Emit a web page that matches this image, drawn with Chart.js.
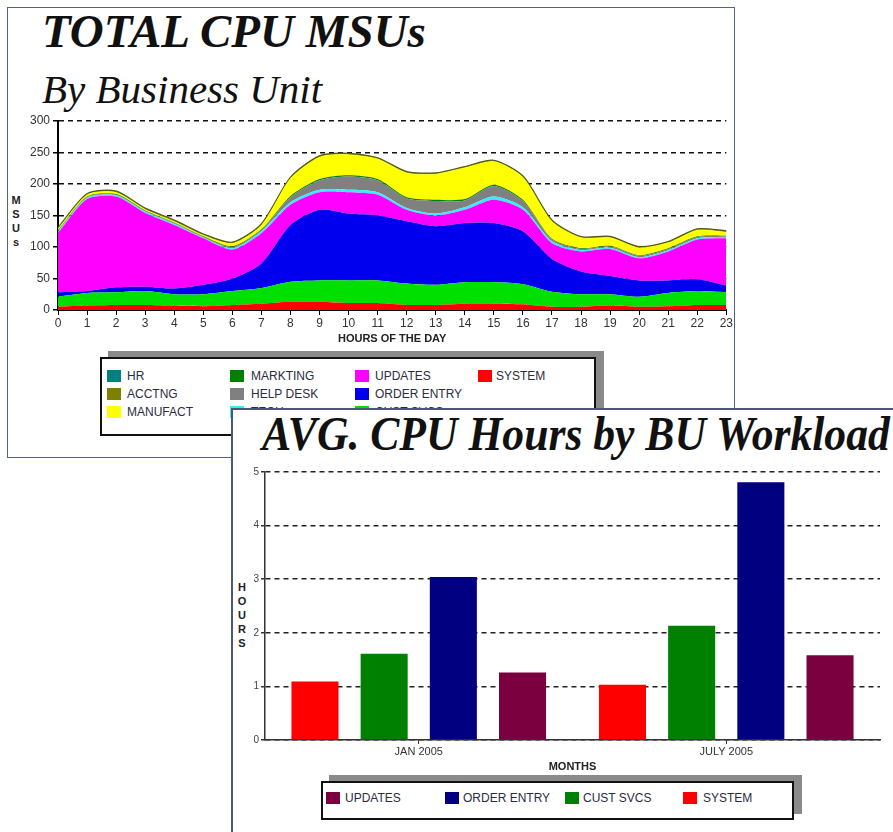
<!DOCTYPE html>
<html>
<head>
<meta charset="utf-8">
<script src="https://cdn.jsdelivr.net/npm/chart.js@4.4.1/dist/chart.umd.min.js"></script>
<style>
  body { margin: 0; width: 893px; height: 832px; background: #fff; position: relative; overflow: hidden; font-family: "Liberation Sans", Arial, sans-serif; }
  .panel { position: absolute; background: #fff; box-sizing: border-box; }
  #panel1 { left: 7px; top: 7px; width: 728px; height: 451px; border: 1px solid #53627f; }
  #panel2 { left: 231px; top: 408px; width: 662px; height: 424px; border-left: 2px solid #4a5873; border-top: 2px solid #4a5873; z-index: 2; }
  .title { position: absolute; font-family: "Liberation Serif", "Times New Roman", serif; font-style: italic; color: #111; line-height: 1; white-space: nowrap; transform-origin: left top; }
  .vtitle { position: absolute; font-weight: bold; font-size: 11px; line-height: 14px; text-align: center; width: 12px; color: #222; }
  .legend { position: absolute; box-sizing: border-box; border: 2px solid #111; background: #fff; box-shadow: 8px -6px 0 #8a8a8a; }
  .legend .item { position: absolute; font-size: 12px; color: #2a2d3e; white-space: nowrap; line-height: 14px; }
  .legend .sw { position: absolute; width: 14px; height: 12px; }
  canvas { position: absolute; }
</style>
</head>
<body>
<div class="panel" id="panel1">
  <div class="title" style="left:34px; top:0px; font-size:47px; font-weight:bold;">TOTAL CPU MSUs</div>
  <div class="title" style="left:34px; top:61px; font-size:41px;">By Business Unit</div>
  <div class="vtitle" style="left:2px; top:185px;">M<br>S<br>U<br>s</div>
  <canvas id="chart1" width="726" height="246" style="left:0; top:93px;"></canvas>
  <div class="legend" id="legend1" style="left:92px; top:349px; width:496px; height:79px;"></div>
</div>
<div class="panel" id="panel2">
  <div class="title" id="title2" style="left:29px; top:0px; font-size:48px; font-weight:bold;">AVG. CPU Hours by BU Workload</div>
  <div class="vtitle" style="left:3px; top:170px;">H<br>O<br>U<br>R<br>S</div>
  <canvas id="chart2" width="655" height="315" style="left:0; top:50px;"></canvas>
  <div class="legend" id="legend2" style="left:88px; top:371px; width:473px; height:39px;"></div>
</div>
<script>
// ---- chart 1 data: MSUs by hour, stacked bottom to top
var HOURS = ["0","1","2","3","4","5","6","7","8","9","10","11","12","13","14","15","16","17","18","19","20","21","22","23"];
var SYSTEM      = [5,7,8,8,7,6,8,10,13,13,11,11,8,8,10,10,9,5,5,7,5,6,8,8];
var CUST_SVCS   = [16,20,20,22,18,19,22,25,32,34,36,36,34,32,34,34,32,24,20,18,16,21,22,20];
var ORDER_ENTRY = [7,3,8,7,9,15,20,39,90,112,106,103,99,93,94,94,84,52,36,29,26,20,19,11];
var UPDATES     = [94,146,144,117,101,74,46,48,32,28,34,33,18,17,21,37,34,25,32,43,35,46,63,75];
var TECH        = [2,2,2,2,2,1,2,3,4,4,4,4,3,3,4,5,4,3,2,2,2,2,2,2];
var HELP_DESK   = [1,1,1,1,1,1,2,2,8,15,21,19,15,20,11,17,10,3,2,2,2,2,2,1];
var MARKTING    = [1,1,1,1,1,1,1,1,2,2,2,2,2,2,2,2,2,1,1,1,1,1,1,1];
var MANUFACT    = [3,3,3,2,2,2,5,7,28,35,33,32,39,41,50,37,36,28,17,13,12,9,10,6];
var ACCTNG      = [1,1,1,1,1,1,1,1,1,1,1,1,1,1,1,1,1,1,1,1,1,1,1,1];
var HR          = [0.5,0.5,0.5,0.5,0.5,0.5,0.5,0.5,0.5,0.5,0.5,0.5,0.5,0.5,0.5,0.5,0.5,0.5,0.5,0.5,0.5,0.5,0.5,0.5];
var MSU_TICKS   = [0,50,100,150,200,250,300];

// ---- chart 2 data: avg CPU hours per month
var MONTHS        = ["JAN 2005", "JULY 2005"];
var BAR_SYSTEM    = [1.09, 1.03];
var BAR_CUST_SVCS = [1.61, 2.13];
var BAR_ORDER     = [3.04, 4.81];
var BAR_UPDATES   = [1.26, 1.58];
var HOUR_TICKS    = [0,1,2,3,4,5];

var tickFont = { family: "Liberation Sans", size: 12 };

// squeeze the second title to the width it has in the picture
var t2 = document.getElementById("title2");
t2.style.transform = "scaleX(" + (628 / t2.scrollWidth) + ")";

var stack1 = [
    { label: "SYSTEM", data: SYSTEM, color: "#ff0000" },
    { label: "CUST SVCS", data: CUST_SVCS, color: "#00e000" },
    { label: "ORDER ENTRY", data: ORDER_ENTRY, color: "#0000ee" },
    { label: "UPDATES", data: UPDATES, color: "#ff00ff" },
    { label: "TECH", data: TECH, color: "#33eeff" },
    { label: "HELP DESK", data: HELP_DESK, color: "#808080" },
    { label: "MARKTING", data: MARKTING, color: "#008000" },
    { label: "MANUFACT", data: MANUFACT, color: "#ffff00" },
    { label: "ACCTNG", data: ACCTNG, color: "#808000" },
    { label: "HR", data: HR, color: "#008080" }
];

new Chart(document.getElementById("chart1"), {
    type: "line",
    data: {
        labels: HOURS,
        datasets: stack1.map(function (s, i) {
            return {
                label: s.label,
                data: s.data,
                backgroundColor: s.color,
                borderColor: i === stack1.length - 1 ? "#4d5a10" : s.color,
                borderWidth: i === stack1.length - 1 ? 1.5 : 0,
                fill: i === 0 ? "origin" : "-1",
                pointRadius: 0,
                tension: 0.25
            };
        })
    },
    options: {
        responsive: false,
        animation: false,
        layout: { padding: { left: 0, top: 20, right: 7, bottom: 0 } },
        plugins: { legend: { display: false }, tooltip: { enabled: false } },
        scales: {
            x: {
                grid: { drawOnChartArea: false, tickLength: 5, color: "#000" },
                border: { color: "#000", width: 2 },
                ticks: { font: tickFont, color: "#333", padding: 1, maxRotation: 0, autoSkip: false },
                title: { display: true, text: "HOURS OF THE DAY", font: { family: "Liberation Sans", size: 11, weight: "bold" }, color: "#222", padding: { top: 0, bottom: 1 } },
                afterFit: function (scale) { scale.height = 37; }
            },
            y: {
                stacked: true,
                min: 0,
                max: 300,
                afterBuildTicks: function (scale) { scale.ticks = MSU_TICKS.map(function (v) { return { value: v }; }); },
                grid: { color: "#111", lineWidth: 1.5, tickLength: 5, tickColor: "#000" },
                border: { color: "#000", width: 2, dash: [5, 4] },
                ticks: { font: tickFont, color: "#333", padding: 3 },
                afterFit: function (scale) { scale.width = 50; }
            }
        }
    }
});

var bars2 = [
    { label: "SYSTEM", data: BAR_SYSTEM, color: "#ff0000" },
    { label: "CUST SVCS", data: BAR_CUST_SVCS, color: "#008000" },
    { label: "ORDER ENTRY", data: BAR_ORDER, color: "#000080" },
    { label: "UPDATES", data: BAR_UPDATES, color: "#7a0040" }
];

new Chart(document.getElementById("chart2"), {
    type: "bar",
    data: {
        labels: MONTHS,
        datasets: bars2.map(function (s) {
            return { label: s.label, data: s.data, backgroundColor: s.color, categoryPercentage: 0.9, barPercentage: 0.68 };
        })
    },
    options: {
        responsive: false,
        animation: false,
        layout: { padding: { left: 0, top: 12, right: 8, bottom: 0 } },
        plugins: { legend: { display: false }, tooltip: { enabled: false } },
        scales: {
            x: {
                grid: { drawOnChartArea: false, offset: false, tickLength: 4, color: "#333" },
                border: { color: "#333", width: 1.5 },
                ticks: { font: { family: "Liberation Sans", size: 11 }, color: "#333", padding: 1 },
                title: { display: true, text: "MONTHS", font: { family: "Liberation Sans", size: 11, weight: "bold" }, color: "#222", padding: { top: 0, bottom: 1 } },
                afterFit: function (scale) { scale.height = 35; }
            },
            y: {
                min: 0,
                max: 5,
                afterBuildTicks: function (scale) { scale.ticks = HOUR_TICKS.map(function (v) { return { value: v }; }); },
                grid: { color: "#222", lineWidth: 1.5, tickLength: 4, tickColor: "#333" },
                border: { color: "#333", width: 1.5, dash: [5, 4] },
                ticks: { font: { family: "Liberation Sans", size: 10 }, color: "#444", padding: 2 },
                afterFit: function (scale) { scale.width = 32; }
            }
        }
    }
});

// ---- HTML legends
function buildLegend(el, items) {
    items.forEach(function (it) {
        var sw = document.createElement("div");
        sw.className = "sw";
        sw.style.left = it.sx + "px";
        sw.style.top = (it.cy - 6) + "px";
        sw.style.background = it.color;
        el.appendChild(sw);
        var tx = document.createElement("div");
        tx.className = "item";
        tx.style.left = it.tx + "px";
        tx.style.top = (it.cy - 7) + "px";
        tx.textContent = it.label;
        el.appendChild(tx);
    });
}

var LEG1_LABELS = ["HR", "ACCTNG", "MANUFACT", "MARKTING", "HELP DESK", "TECH", "UPDATES", "ORDER ENTRY", "CUST SVCS", "SYSTEM"];
var LEG1_COLORS = ["#008080", "#808000", "#ffff00", "#008000", "#808080", "#33eeff", "#ff00ff", "#0000ee", "#00e000", "#ff0000"];
var leg1Cols = [[5, 25], [128, 149], [253, 273], [376, 394]];
var leg1Rows = [17, 35, 53];
buildLegend(document.getElementById("legend1"), LEG1_LABELS.map(function (l, i) {
    var col = Math.floor(i / 3), row = i % 3;
    return { label: l, color: LEG1_COLORS[i], sx: leg1Cols[col][0], tx: leg1Cols[col][1], cy: leg1Rows[row] };
}));

var LEG2_LABELS = ["UPDATES", "ORDER ENTRY", "CUST SVCS", "SYSTEM"];
var LEG2_COLORS = ["#7a0040", "#000080", "#008000", "#ff0000"];
var leg2Cols = [[3, 22], [122, 140], [242, 260], [360, 380]];
buildLegend(document.getElementById("legend2"), LEG2_LABELS.map(function (l, i) {
    return { label: l, color: LEG2_COLORS[i], sx: leg2Cols[i][0], tx: leg2Cols[i][1], cy: 15 };
}));
</script>
</body>
</html>
